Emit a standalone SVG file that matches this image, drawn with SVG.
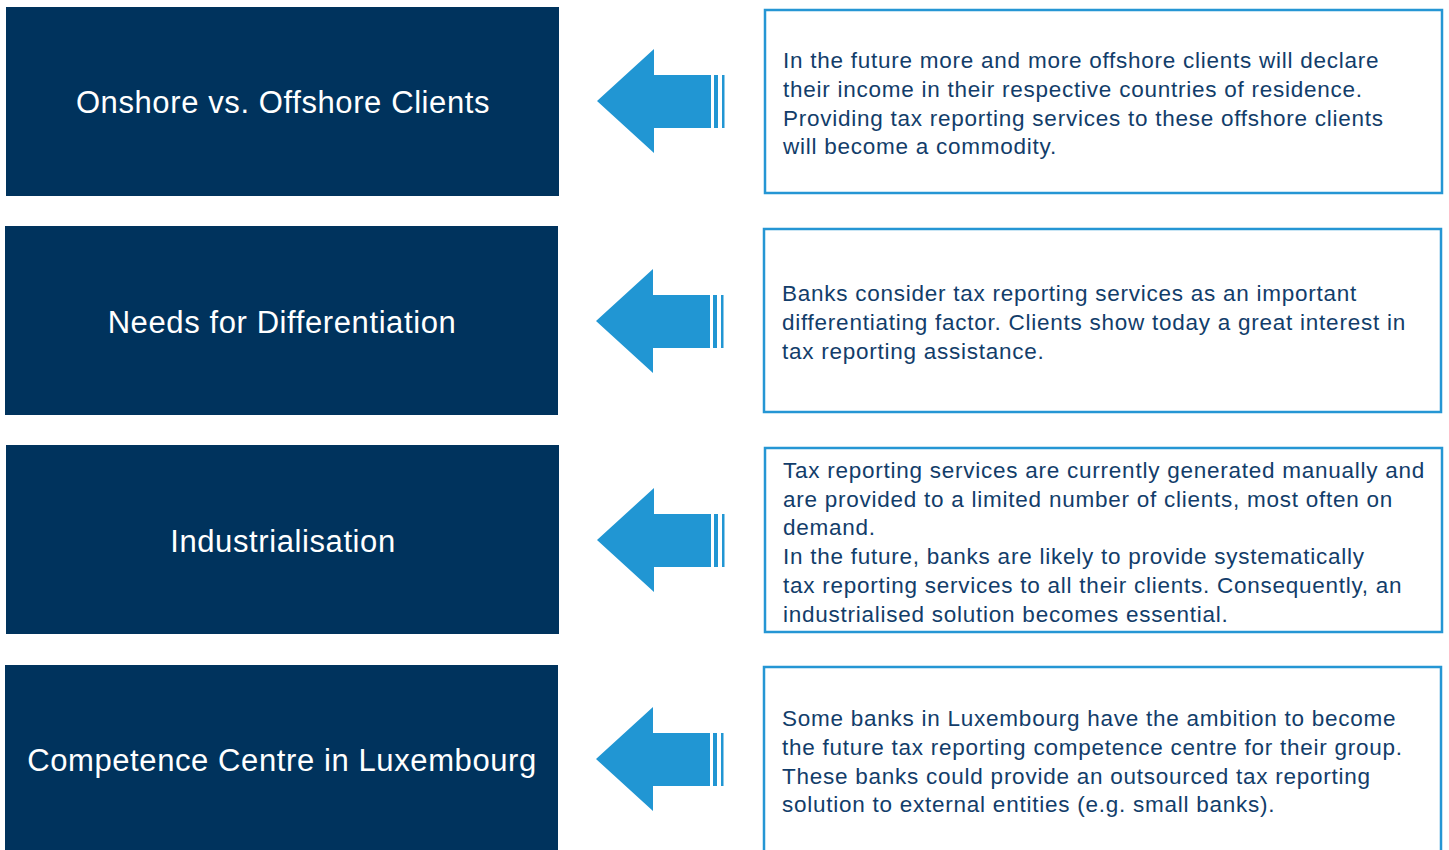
<svg xmlns="http://www.w3.org/2000/svg" width="1449" height="850" viewBox="0 0 1449 850">
<defs>
<style>
.lbox{fill:#00335d}
.ltxt{fill:#ffffff;font-family:"Liberation Sans",Arial,sans-serif;font-size:31px;letter-spacing:0.6px;text-anchor:middle}
.rbox{fill:#ffffff;stroke:#2596d4;stroke-width:2.5}
.rtxt{fill:#123d6a;font-family:"Liberation Sans",Arial,sans-serif;font-size:22.5px;letter-spacing:0.75px}
.arr{fill:#2196d3}
</style>
<g id="arrowShape">
<polygon points="0,0 57,-52 57,-26 114,-26 114,27 57,27 57,52"/>
<rect x="117" y="-26" width="4" height="53"/>
<rect x="125" y="-26" width="2.5" height="53"/>
</g>
</defs>
<rect width="1449" height="850" fill="#ffffff"/>

<g id="node-onshore">
<rect class="lbox" x="6" y="7" width="553" height="189"/>
<text class="ltxt" x="283" y="113">Onshore vs. Offshore Clients</text>
</g>
<g id="node-differentiation">
<rect class="lbox" x="5" y="226" width="553" height="189"/>
<text class="ltxt" x="282" y="333">Needs for Differentiation</text>
</g>
<g id="node-industrialisation">
<rect class="lbox" x="6" y="445" width="553" height="189"/>
<text class="ltxt" x="283" y="552">Industrialisation</text>
</g>
<g id="node-competence">
<rect class="lbox" x="5" y="665" width="553" height="190"/>
<text class="ltxt" x="282" y="771">Competence Centre in Luxembourg</text>
</g>

<g id="desc-onshore">
<rect class="rbox" x="765" y="10" width="677" height="183"/>
<text class="rtxt"><tspan x="783" y="68">In the future more and more offshore clients will declare</tspan><tspan x="783" y="97">their income in their respective countries of residence.</tspan><tspan x="783" y="126">Providing tax reporting services to these offshore clients</tspan><tspan x="783" y="154">will become a commodity.</tspan></text>
</g>
<g id="desc-differentiation">
<rect class="rbox" x="764" y="229" width="677" height="183"/>
<text class="rtxt"><tspan x="782" y="301">Banks consider tax reporting services as an important</tspan><tspan x="782" y="330">differentiating factor. Clients show today a great interest in</tspan><tspan x="782" y="359">tax reporting assistance.</tspan></text>
</g>
<g id="desc-industrialisation">
<rect class="rbox" x="765" y="448" width="677" height="184"/>
<text class="rtxt"><tspan x="783" y="478">Tax reporting services are currently generated manually and</tspan><tspan x="783" y="507">are provided to a limited number of clients, most often on</tspan><tspan x="783" y="535">demand.</tspan><tspan x="783" y="564">In the future, banks are likely to provide systematically</tspan><tspan x="783" y="593">tax reporting services to all their clients. Consequently, an</tspan><tspan x="783" y="622">industrialised solution becomes essential.</tspan></text>
</g>
<g id="desc-competence">
<rect class="rbox" x="764" y="667" width="677" height="200"/>
<text class="rtxt"><tspan x="782" y="726">Some banks in Luxembourg have the ambition to become</tspan><tspan x="782" y="755">the future tax reporting competence centre for their group.</tspan><tspan x="782" y="784">These banks could provide an outsourced tax reporting</tspan><tspan x="782" y="812">solution to external entities (e.g. small banks).</tspan></text>
</g>

<g id="connectors" class="arr">
<use href="#arrowShape" transform="translate(597,101)"/>
<use href="#arrowShape" transform="translate(596,321)"/>
<use href="#arrowShape" transform="translate(597,540)"/>
<use href="#arrowShape" transform="translate(596,759)"/>
</g>
</svg>
